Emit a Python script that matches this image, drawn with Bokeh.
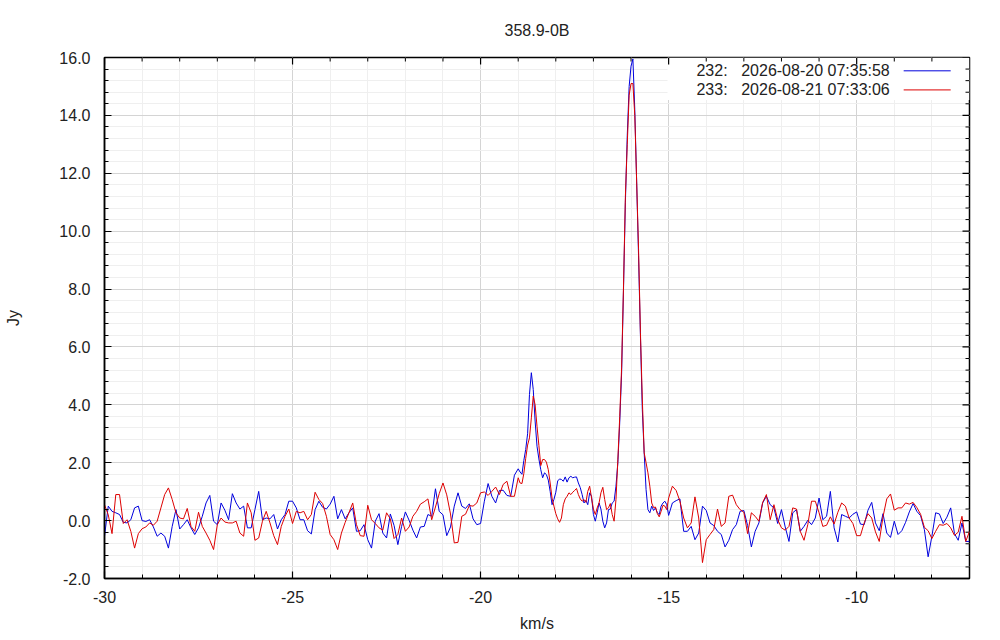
import numpy as np
from bokeh.plotting import figure
from bokeh.models import FixedTicker, Range1d, BoxAnnotation, CustomJSTickFormatter
from bokeh.core.properties import value
from bokeh.embed import file_html
from bokeh.resources import INLINE

# ---------------- data ----------------
title_text = "358.9-0B"
x_label = "km/s"
y_label = "Jy"
scan_ids = ["232:", "233:"]
scan_times = ["2026-08-20 07:35:58", "2026-08-21 07:33:06"]
series_colors = ["#0000dd", "#dd0000"]

x_ticks = [-30, -25, -20, -15, -10]
x_tick_labels = ["-30", "-25", "-20", "-15", "-10"]
y_ticks = [-2, 0, 2, 4, 6, 8, 10, 12, 14, 16]
y_tick_labels = ["-2.0", "0.0", "2.0", "4.0", "6.0", "8.0", "10.0", "12.0", "14.0", "16.0"]

# velocity channel grid, three segments (start, step)
seg_a = (-30.0, 0.1)
seg_b = (-19.0, 0.05)
seg_c = (-15.0, 0.1)

# scan 232 (blue)
blue_a = [
    -0.54, 0.50, 0.32, 0.27, 0.21, -0.06, -0.08, 0.03, 0.44, 0.50,
    0.00, -0.03, 0.03, -0.22, -0.54, -0.43, -0.54, -0.95, -0.20, 0.38,
    -0.29, -0.14, 0.03, -0.25, -0.48, -0.25, 0.15, 0.61, 0.87, -0.02,
    -0.14, 0.61, 0.36, 0.03, 0.93, 0.61, 0.40, 0.50, -0.25, -0.25,
    0.38, 1.01, 0.03, 0.09, 0.06, 0.21, -0.29, 0.03, 0.21, 0.67,
    0.67, 0.44, 0.03, 0.03, -0.35, -0.46, 0.38, 0.67, 0.46, 0.40,
    0.57, 0.84, 0.06, 0.38, 0.06, 0.27, 0.44, -0.37, -0.35, -0.14,
    -0.66, -0.95, -0.02, 0.24, -0.43, -0.60, 0.23, -0.17, -0.83, -0.20,
    0.30, 0.01, -0.33, -0.60, -0.22, -0.20, 0.21, 0.15, 1.10, 0.32,
    0.20, -0.52, -0.22, 0.50, 0.96, 0.50, 0.42, 0.58, 0.06, -0.14,
    -0.10, 0.67, 1.28, 0.84, 0.61, 1.04, 1.05, 0.87, 0.84, 1.57,
]
blue_b = [
    1.79, 1.68, 1.60, 2.08, 2.46, 3.00, 4.36, 5.11, 4.53, 3.44,
    2.57, 2.13, 1.76, 1.48, 1.65, 1.59, 1.40, 1.01, 0.55, 0.73,
    0.98, 1.37, 1.44, 1.42, 1.36, 1.51, 1.33, 1.48, 1.53, 1.48,
    1.50, 1.51, 1.30, 1.14, 0.90, 0.61, 0.70, 0.55, 0.96, 0.84,
    0.21, -0.02, 0.27, 0.61, 0.40, -0.02, -0.25, -0.08, 0.38, 0.40,
    0.61, 0.67, 1.19, 2.00, 3.40, 5.10, 8.00, 11.00, 13.30, 15.00,
    15.70, 15.95, 14.20, 11.70, 9.15, 6.40, 3.84, 2.34, 1.07, 0.38,
    0.27, 0.50, 0.35, 0.44, 0.27, 0.21, 0.50, 0.61, 0.67, 0.55,
]
blue_c = [
    0.18, 0.61, 0.69, 0.75, -0.37, -0.37, -0.20, -0.66, -0.43, 0.50,
    0.35, -0.08, -0.17, -0.37, -0.48, -0.91, -0.68, -0.31, -0.14, 0.32,
    0.35, -0.17, -0.91, -0.37, -0.08, 0.61, 0.84, 0.55, 0.44, -0.10,
    0.38, -0.22, -0.72, 0.27, 0.38, -0.37, -0.20, 0.01, -0.14, 0.09,
    0.78, 0.03, 0.15, 1.01, -0.25, -0.74, 0.21, 0.15, 0.09, 0.22,
    0.30, -0.12, -0.14, 0.36, 0.63, -0.08, -0.35, 0.24, -0.43, -0.58,
    -0.02, -0.48, -0.35, -0.06, 0.30, 0.59, 0.32, 0.17, -0.31, -1.25,
    -0.54, 0.27, 0.23, -0.10, 0.12, 0.44, -0.45, -0.68, -0.08, -0.72,
    -0.72,
]

# scan 233 (red)
red_a = [
    0.55, 0.20, -0.45, 0.90, 0.90, -0.10, 0.03, -0.37, -0.95, -0.45,
    -0.28, -0.22, -0.08, -0.16, -0.02, 0.44, 0.90, 1.13, 0.73, 0.27,
    0.09, 0.06, 0.42, -0.20, -0.37, 0.29, -0.20, -0.43, -0.68, -1.00,
    -0.14, 0.09, -0.05, -0.08, -0.08, -0.02, -0.43, -0.54, 0.61, 0.27,
    -0.68, -0.60, -0.02, 0.32, -0.08, -0.52, -0.83, -0.20, 0.15, 0.40,
    -0.10, 0.32, 0.27, 0.32, 0.03, 0.21, 0.98, 0.73, 0.59, 0.15,
    -0.48, -0.66, -1.00, -0.43, -0.06, 0.27, 0.61, -0.14, -0.52, -0.54,
    0.53, 0.03, -0.10, -0.25, -0.33, 0.27, 0.06, -0.62, -0.48, 0.09,
    -0.37, -0.22, 0.15, 0.32, 0.57, 0.65, 0.75, 0.03, 0.47, 0.93,
    1.30, 0.89, 0.23, -0.77, -0.75, 0.15, 0.22, 0.52, 0.50, 0.61,
    0.96, 0.99, 0.87, 1.01, 1.16, 0.90, 1.25, 1.36, 0.84, 0.84,
]
red_b = [
    1.48, 1.30, 1.28, 1.63, 2.15, 2.61, 2.86, 3.55, 4.30, 4.00,
    3.26, 2.60, 1.90, 2.11, 2.11, 2.02, 1.76, 1.30, 0.78, 0.50,
    0.24, 0.06, -0.06, 0.09, 0.55, 0.75, 0.84, 0.96, 0.90, 0.98,
    1.04, 1.11, 0.90, 0.75, 0.67, 0.73, 0.63, 1.01, 1.19, 0.78,
    0.40, 0.21, 0.44, 0.61, 0.96, 1.15, 0.73, 0.38, 0.44, 0.59,
    0.21, -0.02, 0.73, 2.10, 3.60, 5.30, 8.10, 11.20, 13.00, 14.70,
    15.10, 15.10, 14.00, 11.70, 9.40, 6.50, 4.20, 2.34, 2.00, 1.65,
    1.19, 0.61, 0.45, 0.47, 0.24, 0.13, 0.32, 0.53, 0.50, 0.38,
]
red_c = [
    0.78, 1.19, 1.04, 0.67, 0.09, -0.25, -0.08, 0.82, 0.09, -1.45,
    -0.66, -0.48, -0.31, 0.40, -0.20, -0.08, 0.84, 0.88, 0.55, 0.38,
    0.29, -0.45, 0.27, 0.15, -0.02, 0.63, 0.90, 0.03, 0.55, 0.03,
    -0.25, -0.33, -0.20, 0.44, 0.40, -0.37, -0.68, -0.14, 0.67, 0.67,
    0.27, -0.20, -0.16, 0.13, -0.12, 0.29, 0.61, 0.50, 0.09, -0.10,
    -0.52, -0.52, -0.08, 0.24, 0.09, -0.39, -0.72, 0.13, 0.75, 0.92,
    0.36, 0.44, 0.44, 0.61, 0.57, 0.63, 0.45, 0.22, -0.23, -0.35,
    -0.62, -0.37, -0.14, -0.16, -0.10, -0.25, -0.51, -0.40, 0.15, -0.72,
    -0.37,
]


def seg_x(seg, n):
    start, step = seg
    return np.round(start + step * np.arange(n), 3)


vel = np.concatenate([seg_x(seg_a, len(blue_a)), seg_x(seg_b, len(blue_b)),
                      seg_x(seg_c, len(blue_c))])
blue = np.array(blue_a + blue_b + blue_c)
red = np.array(red_a + red_b + red_c)

# ---------------- figure ----------------
FONT = "Liberation Sans"
TXT = "#222222"
X0, X1, Y0, Y1 = -30, -7, -2, 16
FW, FH = 865, 521

p = figure(frame_width=FW, frame_height=FH,
           min_border_left=104, min_border_right=31,
           min_border_top=57, min_border_bottom=61,
           x_range=Range1d(X0, X1), y_range=Range1d(Y0, Y1),
           output_backend="svg", toolbar_location=None,
           title=title_text, background_fill_color="white",
           border_fill_color="white")

p.title.align = "center"
p.title.text_font = FONT
p.title.text_font_size = "16px"
p.title.text_font_style = "normal"
p.title.text_color = TXT
p.title.standoff = 37

p.outline_line_color = "black"
p.outline_line_width = 1.5
p.outline_line_alpha = 1

x_minor = [float(v) for v in range(X0, X1 + 1)]
y_minor = [round(Y0 + 0.4 * i, 2) for i in range(46)]
xt = FixedTicker(ticks=x_ticks, minor_ticks=x_minor)
yt = FixedTicker(ticks=y_ticks, minor_ticks=y_minor)

xfmt = CustomJSTickFormatter(code="return tick.toFixed(0);")
yfmt = CustomJSTickFormatter(code="return tick.toFixed(1);")


def style_axis(ax):
    ax.axis_line_color = "black"
    ax.axis_line_width = 1.5
    ax.major_tick_in = 7
    ax.major_tick_out = 0
    ax.minor_tick_in = 4
    ax.minor_tick_out = 0
    ax.major_tick_line_color = "black"
    ax.minor_tick_line_color = "black"
    ax.major_tick_line_width = 1.2
    ax.minor_tick_line_width = 1
    ax.major_label_text_font = FONT
    ax.major_label_text_font_size = "16px"
    ax.major_label_text_color = TXT
    ax.axis_label_text_font = FONT
    ax.axis_label_text_font_size = "16px"
    ax.axis_label_text_font_style = "normal"
    ax.axis_label_text_color = TXT


xa = p.xaxis[0]
xa.ticker = xt
xa.formatter = xfmt
xa.major_label_overrides = dict(zip(x_ticks, x_tick_labels))
xa.axis_label = x_label
style_axis(xa)
xa.major_label_standoff = 12
xa.axis_label_standoff = 9

ya = p.yaxis[0]
ya.ticker = yt
ya.formatter = yfmt
ya.major_label_overrides = dict(zip(y_ticks, y_tick_labels))
ya.axis_label = y_label
style_axis(ya)
ya.major_label_standoff = 14
ya.axis_label_standoff = 34

for g in (p.xgrid[0], p.ygrid[0]):
    g.grid_line_color = "#d4d4d4"
    g.grid_line_width = 1
    g.minor_grid_line_color = "#efefef"
    g.minor_grid_line_width = 1
p.xgrid[0].ticker = xt
p.ygrid[0].ticker = yt

# legend panel (drawn by hand: text left, line sample right)
leg_left, leg_bottom = -15.03, 14.53
leg_rows = [15.54, 14.88]
leg_id_x = -14.26
leg_time_x = -9.12
leg_line = (-8.75, -7.5)

box = BoxAnnotation(left=leg_left, right=X1, bottom=leg_bottom, top=Y1,
                    fill_color="white", fill_alpha=1.0, line_color=None,
                    level="underlay")
p.add_layout(box)

# mirrored inward ticks on the top and right borders
dy_per_px = (Y1 - Y0) / FH
dx_per_px = (X1 - X0) / FW
x_minor_only = [v for v in x_minor if v not in x_ticks and X0 < v < X1]
y_minor_only = [v for v in y_minor if v not in y_ticks and Y0 < v < Y1]
p.segment(x0=x_ticks, x1=x_ticks, y0=[Y1] * len(x_ticks),
          y1=[Y1 - 7 * dy_per_px] * len(x_ticks), line_color="black", line_width=1.2)
p.segment(x0=x_minor_only, x1=x_minor_only, y0=[Y1] * len(x_minor_only),
          y1=[Y1 - 4 * dy_per_px] * len(x_minor_only), line_color="black", line_width=1)
p.segment(x0=[X1] * len(y_ticks), x1=[X1 - 7 * dx_per_px] * len(y_ticks),
          y0=y_ticks, y1=y_ticks, line_color="black", line_width=1.2)
p.segment(x0=[X1] * len(y_minor_only), x1=[X1 - 4 * dx_per_px] * len(y_minor_only),
          y0=y_minor_only, y1=y_minor_only, line_color="black", line_width=1)

p.line(vel, blue, line_color=series_colors[0], line_width=1)
p.line(vel, red, line_color=series_colors[1], line_width=1)

p.text(x=[leg_id_x] * 2, y=leg_rows, text=scan_ids, text_align="left",
       text_baseline="middle", text_font=value(FONT), text_font_size="16px",
       text_color=TXT)
p.text(x=[leg_time_x] * 2, y=leg_rows, text=scan_times, text_align="right",
       text_baseline="middle", text_font=value(FONT), text_font_size="16px",
       text_color=TXT)
p.segment(x0=[leg_line[0]] * 2, x1=[leg_line[1]] * 2, y0=leg_rows, y1=leg_rows,
          line_color=series_colors, line_width=1)

open("out.html", "w").write(file_html(p, INLINE))
